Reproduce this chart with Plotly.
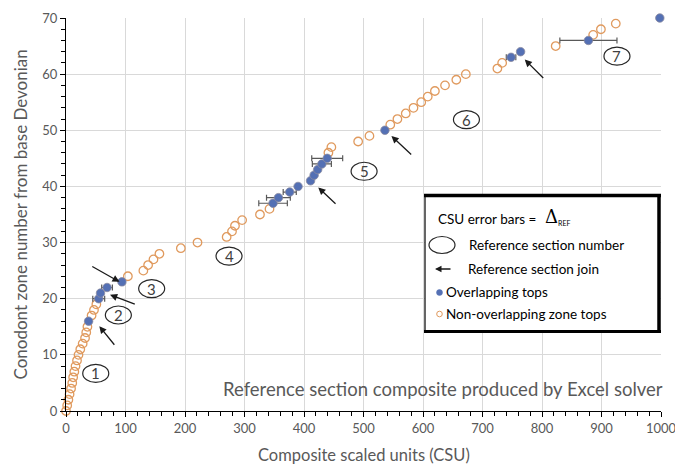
import plotly.graph_objects as go

# ---- data ----
zone_numbers = list(range(71))
zone_csu = [0, 2, 4, 6, 8.5, 10.5, 12, 14, 16, 18.5,
            21, 24, 28, 32, 34, 36, 38, 43, 47, 51,
            55, 58, 69, 94, 104, 130, 138, 147, 157, 193,
            221, 270, 279, 284, 296, 326, 342, 348, 357, 376,
            390, 411, 417, 423, 430, 439, 441, 446, 491, 510,
            536, 545, 557, 571, 584, 597, 608, 620, 637, 656,
            672, 725, 733, 748, 764, 823, 878, 886, 899, 924, 998]
overlap_zones = [16, 20, 21, 22, 23, 37, 38, 39, 40, 41, 42, 43, 44, 45, 50, 63, 64, 66, 70]
err_zones = [20, 22, 37, 38, 39, 44, 45, 63, 66]
err_delta = [10, 9, 24, 20, 11, 16, 26, 8, 48]

section_labels = ["1", "2", "3", "4", "5", "6", "7"]
section_x = [50, 88, 144, 274, 501, 673, 926]
section_y = [6.7, 17.1, 21.8, 27.6, 42.7, 51.9, 63.2]

join_x = [56, 74, 90, 424, 547, 771]
join_y = [15.1, 20.7, 23.0, 39.8, 49.0, 62.6]
join_ax = [13, 21, -23, 15, 17, 16]
join_ay = [16, 8, -13, 14, 16, 16]

FONT = "Lato"
GRAY = "#595959"
ORANGE = "#E09A5E"
BLUE = "#5470B4"

non_x = [zone_csu[z] for z in zone_numbers if z not in overlap_zones]
non_y = [z for z in zone_numbers if z not in overlap_zones]
ov_x = [zone_csu[z] for z in overlap_zones]
ov_y = overlap_zones

fig = go.Figure()
fig.add_trace(go.Scatter(x=non_x, y=non_y, mode="markers", cliponaxis=False,
                         marker=dict(symbol="circle-open", size=8.5, color=ORANGE,
                                     line=dict(width=1.3, color=ORANGE)),
                         showlegend=False, hoverinfo="skip"))
fig.add_trace(go.Scatter(x=[zone_csu[z] for z in err_zones], y=err_zones, mode="markers",
                         marker=dict(size=1, opacity=0),
                         error_x=dict(type="data", array=err_delta, symmetric=True,
                                      color=GRAY, thickness=1.2, width=3),
                         showlegend=False, hoverinfo="skip"))
fig.add_trace(go.Scatter(x=ov_x, y=ov_y, mode="markers", cliponaxis=False,
                         marker=dict(symbol="circle", size=8.5, color=BLUE,
                                     line=dict(width=0.8, color="#8A8AA0")),
                         showlegend=False, hoverinfo="skip"))

shapes = []
annotations = []
# circled section numbers
for lab, sx, sy in zip(section_labels, section_x, section_y):
    shapes.append(dict(type="circle", xref="x", yref="y", xsizemode="pixel", ysizemode="pixel",
                       xanchor=sx, yanchor=sy, x0=-13, x1=13, y0=-9, y1=9,
                       line=dict(color="#262626", width=1.2), fillcolor="rgba(0,0,0,0)"))
    annotations.append(dict(x=sx, y=sy, xref="x", yref="y", text=lab, showarrow=False,
                            xanchor="center", yanchor="middle",
                            font=dict(family=FONT, size=15, color="#404040")))
# join arrows
for jx, jy, ax, ay in zip(join_x, join_y, join_ax, join_ay):
    annotations.append(dict(x=jx, y=jy, xref="x", yref="y", text="", showarrow=True,
                            ax=ax * 1.25, ay=ay * 1.25, arrowhead=2, arrowsize=1.1,
                            arrowwidth=1.3, arrowcolor="#1a1a1a"))

# legend box (pixel -> paper)
L, R, T, B = 66, 661, 18, 411
def px(xp):
    return (xp - L) / (R - L)
def py(yp):
    return (B - yp) / (B - T)

shapes.append(dict(type="rect", xref="paper", yref="paper", x0=px(425), x1=px(659), y0=py(332), y1=py(195),
                   line=dict(color="black", width=1.2), fillcolor="white", layer="above"))
shapes.append(dict(type="line", xref="paper", yref="paper", x0=px(424), x1=px(661), y0=py(195.5), y1=py(195.5),
                   line=dict(color="black", width=3.5)))
shapes.append(dict(type="line", xref="paper", yref="paper", x0=px(659), x1=px(659), y0=py(194), y1=py(333),
                   line=dict(color="black", width=3.5)))
shapes.append(dict(type="line", xref="paper", yref="paper", x0=px(424), x1=px(661), y0=py(331.5), y1=py(331.5),
                   line=dict(color="black", width=3)))
# legend ellipse
shapes.append(dict(type="circle", xref="paper", yref="paper", xsizemode="pixel", ysizemode="pixel",
                   xanchor=px(442), yanchor=py(245), x0=-13, x1=13, y0=-8.5, y1=8.5,
                   line=dict(color="#262626", width=1.2)))
# legend markers
shapes.append(dict(type="circle", xref="paper", yref="paper", xsizemode="pixel", ysizemode="pixel",
                   xanchor=px(439.5), yanchor=py(292.5), x0=-3, x1=3, y0=-3, y1=3,
                   line=dict(color=BLUE, width=0.5), fillcolor=BLUE))
shapes.append(dict(type="circle", xref="paper", yref="paper", xsizemode="pixel", ysizemode="pixel",
                   xanchor=px(439.5), yanchor=py(314), x0=-2.8, x1=2.8, y0=-2.8, y1=2.8,
                   line=dict(color=ORANGE, width=1)))

legend_font = dict(family=FONT, size=13.5, color="black")
def ltext(xp, yp, text, font=legend_font):
    return dict(x=px(xp), y=py(yp), xref="paper", yref="paper", xanchor="left", yanchor="middle",
                text=text, showarrow=False, font=font)

annotations += [
    ltext(436, 219, "CSU error bars ="),
    ltext(543, 217, "Δ", dict(family="DejaVu Serif", size=18, color="black")),
    ltext(556, 223, "REF", dict(family=FONT, size=7, color="black")),
    ltext(467, 245, "Reference section number"),
    ltext(466, 269, "Reference section join"),
    dict(x=px(435), y=py(269), xref="paper", yref="paper", text="", showarrow=True,
         ax=17, ay=0, arrowhead=2, arrowsize=1, arrowwidth=1.3, arrowcolor="#1a1a1a"),
    ltext(444, 292, "Overlapping tops"),
    ltext(444, 314, "Non-overlapping zone tops"),
    dict(x=px(665), y=py(389), xref="paper", yref="paper", xanchor="right", yanchor="middle",
         text="Reference section composite produced by Excel solver",
         showarrow=False, font=dict(family=FONT, size=18.5, color=GRAY)),
    dict(x=0.5, y=py(455), xref="paper", yref="paper", xanchor="center", yanchor="middle",
         text="Composite scaled units (CSU)", showarrow=False,
         font=dict(family=FONT, size=16.5, color=GRAY)),
    dict(x=px(20), y=0.5, xref="paper", yref="paper", xanchor="center", yanchor="middle",
         text="Conodont zone number from base Devonian", showarrow=False, textangle=-90,
         font=dict(family=FONT, size=17, color=GRAY)),
]

fig.update_layout(
    width=675, height=468,
    margin=dict(l=L, r=675 - R, t=T, b=468 - B),
    plot_bgcolor="white", paper_bgcolor="white",
    shapes=shapes, annotations=annotations,
    font=dict(family=FONT, color=GRAY),
)
fig.update_xaxes(range=[0, 1000], dtick=100, tick0=0, showgrid=True, gridcolor="#d9d9d9", gridwidth=1,
                 zeroline=False, showline=True, linecolor="black", linewidth=1, automargin=False,
                 ticks="outside", ticklen=5, tickcolor="black", ticklabeloverflow="allow",
                 minor=dict(dtick=20, ticks="outside", ticklen=4, tickcolor="black", showgrid=False),
                 tickfont=dict(family=FONT, size=13, color=GRAY))
fig.update_yaxes(range=[0, 70], dtick=10, tick0=0, showgrid=True, gridcolor="#d9d9d9", gridwidth=1,
                 zeroline=False, showline=True, linecolor="black", linewidth=1, automargin=False,
                 ticks="outside", ticklen=5, tickcolor="black", ticklabeloverflow="allow",
                 minor=dict(dtick=2, ticks="outside", ticklen=4, tickcolor="black", showgrid=False),
                 tickfont=dict(family=FONT, size=13, color=GRAY))

fig.write_html("out.html")
